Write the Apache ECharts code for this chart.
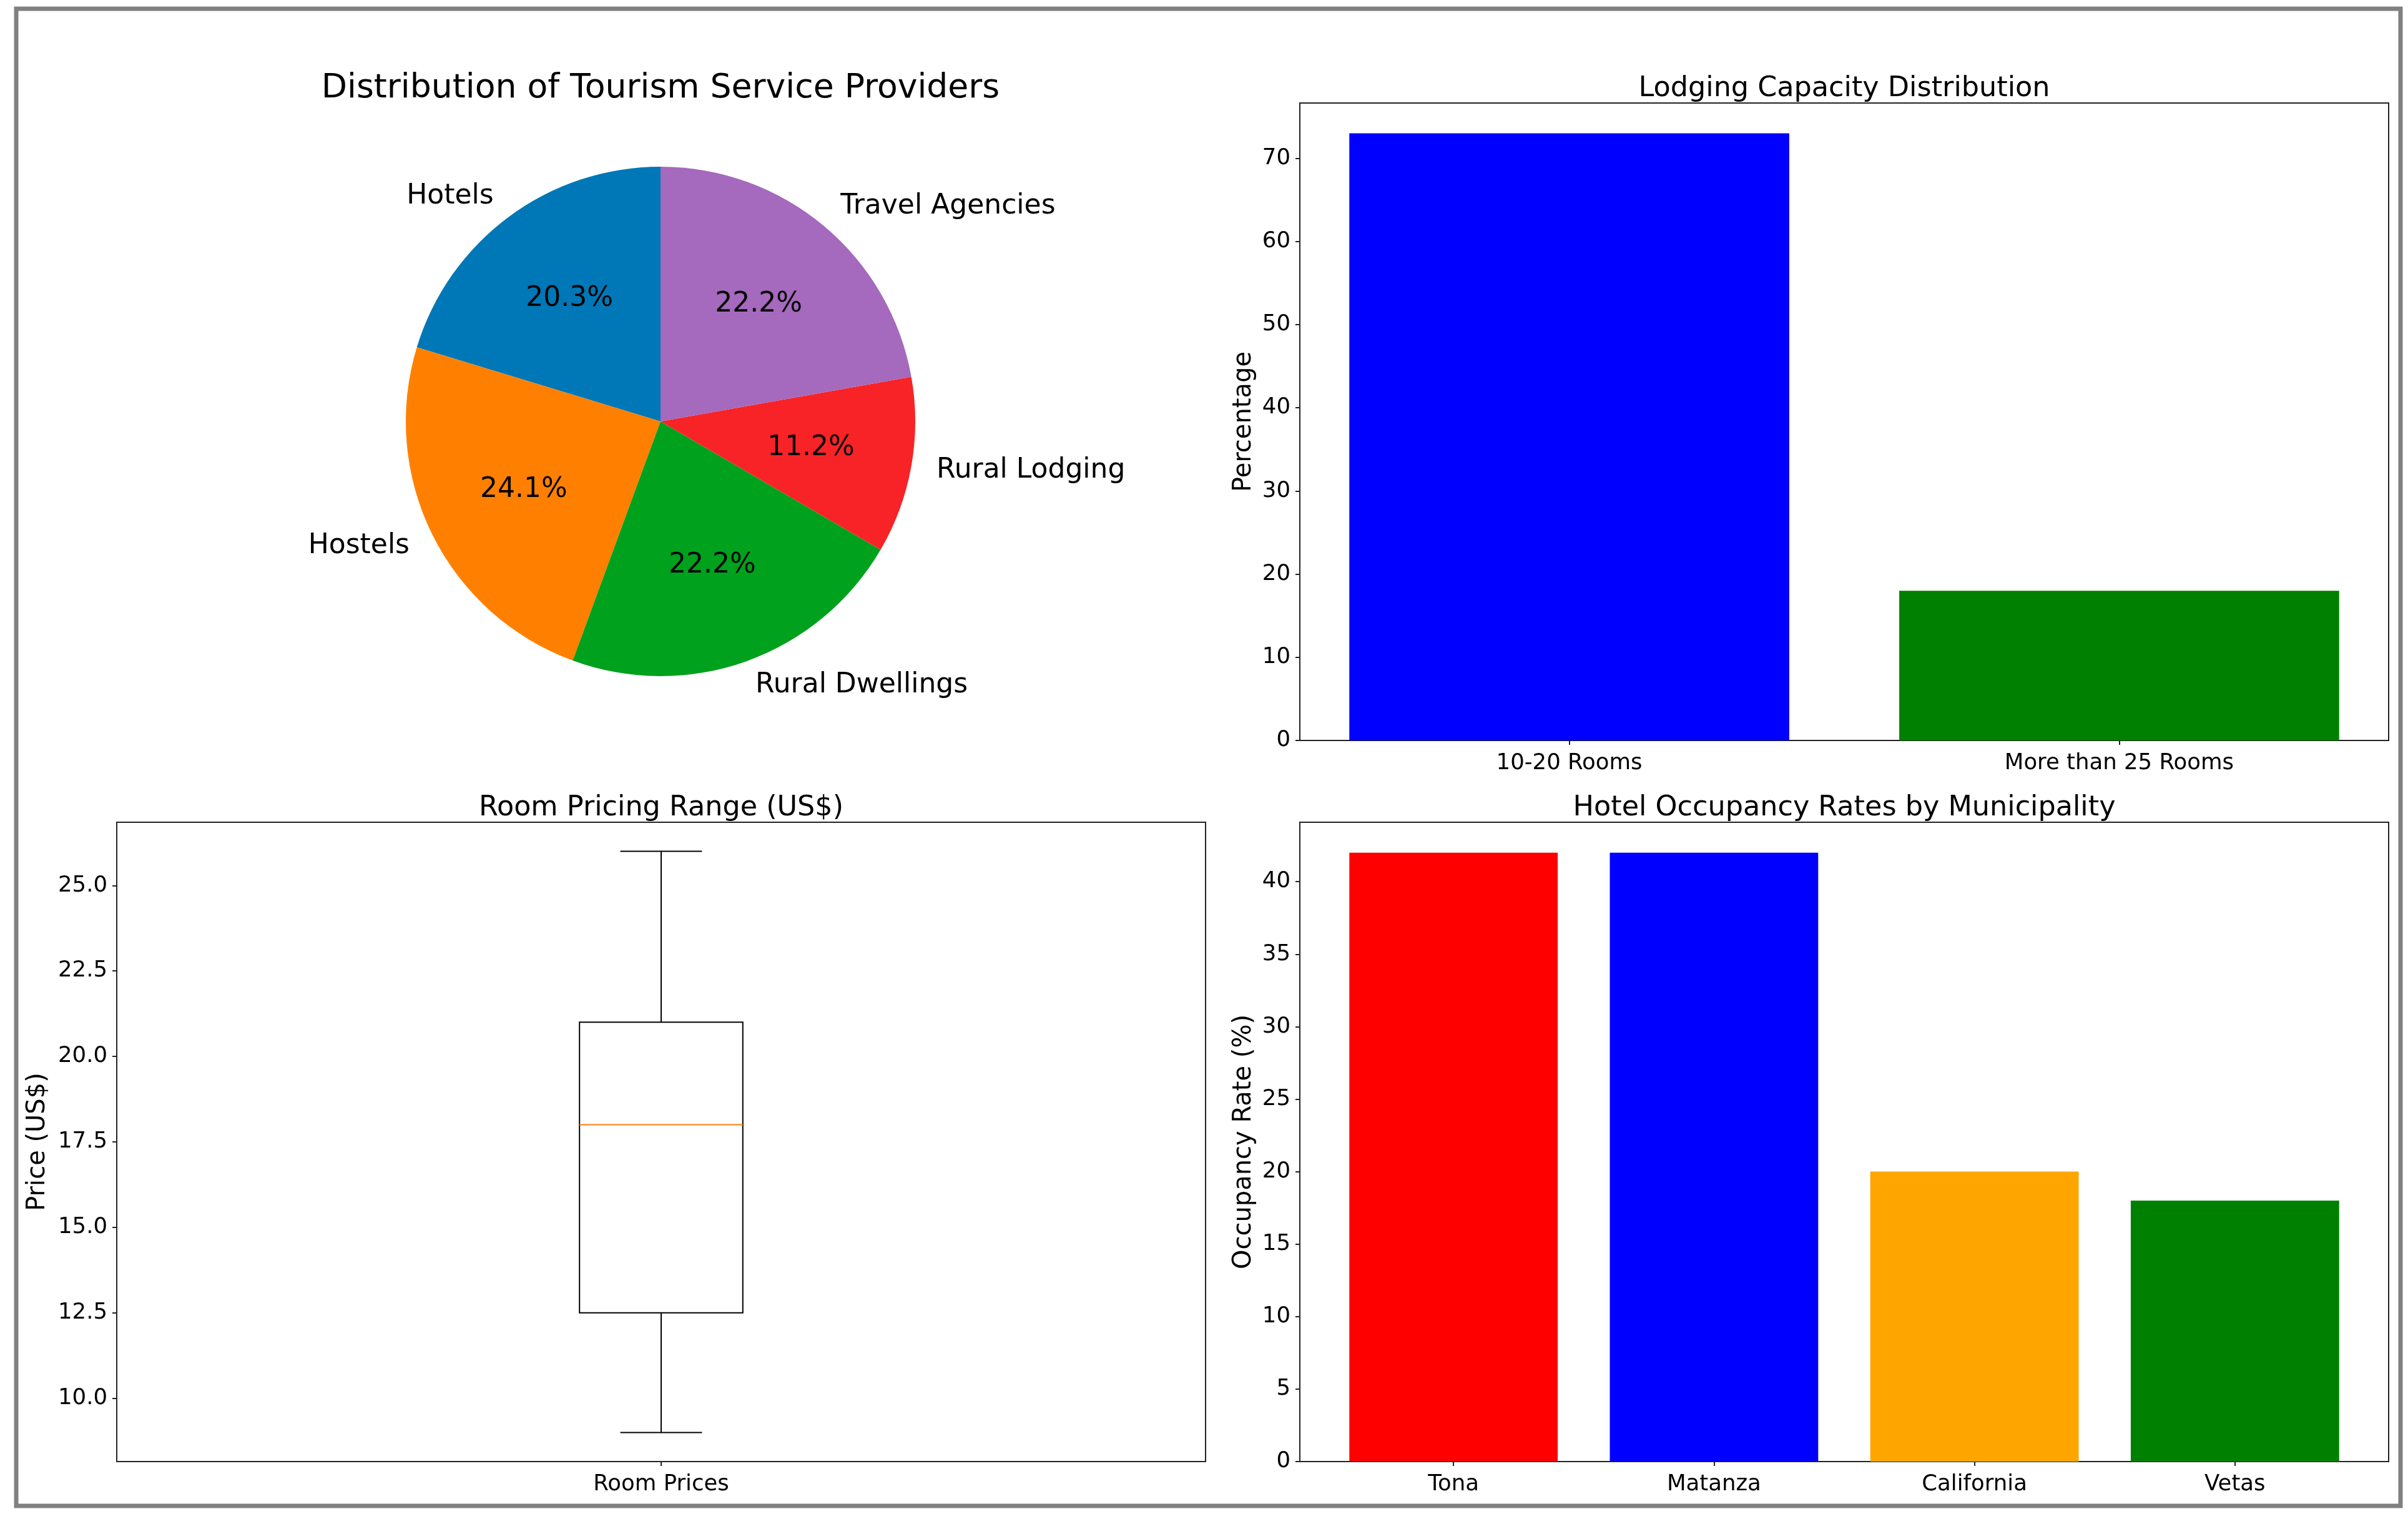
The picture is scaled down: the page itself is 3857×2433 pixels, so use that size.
<!DOCTYPE html>
<html>
<head>
<meta charset="utf-8">
<script src="https://cdn.jsdelivr.net/npm/echarts@6/dist/echarts.min.js"></script>
<style>
html,body{margin:0;padding:0;background:#fff;}
#c{width:3857px;height:2433px;}
</style>
</head>
<body>
<div id="c"></div>
<script>
// ---- data ----
const providerLabels = ['Hotels', 'Hostels', 'Rural Dwellings', 'Rural Lodging', 'Travel Agencies'];
const providerValues = [20.3, 24.1, 22.2, 11.2, 22.2];
const providerColors = ['#0077B6', '#FF8000', '#00A11C', '#F82326', '#A569BD'];

const capacityCats = ['10-20 Rooms', 'More than 25 Rooms'];
const capacityValues = [73, 18];
const capacityColors = ['#0000FF', '#008000'];
const capacityTicks = [0, 10, 20, 30, 40, 50, 60, 70];

const priceStats = [9, 12.5, 18, 21, 26]; // min, Q1, median, Q3, max
const priceCats = ['Room Prices'];
const priceTicks = [10, 12.5, 15, 17.5, 20, 22.5, 25];

const municipalities = ['Tona', 'Matanza', 'California', 'Vetas'];
const occupancyValues = [42, 42, 20, 18];
const occupancyColors = ['#FF0000', '#0000FF', '#FFA500', '#008000'];
const occupancyTicks = [0, 5, 10, 15, 20, 25, 30, 35, 40];

// ---- helpers ----
const FONT = 'DejaVu Sans';
const AX = '#222';
function idx(arr) { return arr.map((_, i) => i); }
function barLimits(n) { const lo = -0.4, hi = n - 1 + 0.4, m = (hi - lo) * 0.05; return [lo - m, hi + m]; }
const capLim = barLimits(capacityCats.length);
const occLim = barLimits(municipalities.length);
const priceSpan = priceStats[4] - priceStats[0];

const yLabel = { fontFamily: FONT, fontSize: 35.5, color: '#000', margin: 15 };
const xLabel = { fontFamily: FONT, fontSize: 35.5, color: '#000', margin: 19 };
const tick = { show: true, length: 7, lineStyle: { color: AX, width: 2 } };
const line = { show: true, onZero: false, lineStyle: { color: AX, width: 2 } };
const nameStyle = { fontFamily: FONT, fontSize: 40, color: '#000' };
const titleStyle = (s) => ({ fontFamily: FONT, fontSize: s, fontWeight: 'normal', color: '#000' });

const chart = echarts.init(document.getElementById('c'), null, { renderer: 'canvas' });

const option = {
  backgroundColor: '#fff',
  animation: false,
  title: [
    { text: 'Distribution of Tourism Service Providers', left: 1058, top: 115, textAlign: 'center', padding: 0, textStyle: titleStyle(53.6) },
    { text: 'Lodging Capacity Distribution', left: 2954, top: 120, textAlign: 'center', padding: 0, textStyle: titleStyle(44.5) },
    { text: 'Room Pricing Range (US$)', left: 1059, top: 1272, textAlign: 'center', padding: 0, textStyle: titleStyle(44.5) },
    { text: 'Hotel Occupancy Rates by Municipality', left: 2954, top: 1272, textAlign: 'center', padding: 0, textStyle: titleStyle(44.5) }
  ],
  graphic: [{
    type: 'rect', silent: true, z: 100,
    shape: { x: 26, y: 14, width: 3819, height: 2398 },
    style: { fill: 'rgba(0,0,0,0)', stroke: '#808080', lineWidth: 7 }
  }],
  grid: [
    { left: 2082, top: 165, width: 1744, height: 1021, show: true, borderColor: AX, borderWidth: 2, outerBoundsMode: 'none' },
    { left: 187, top: 1317, width: 1744, height: 1024, show: true, borderColor: AX, borderWidth: 2, outerBoundsMode: 'none' },
    { left: 2082, top: 1317, width: 1744, height: 1024, show: true, borderColor: AX, borderWidth: 2, outerBoundsMode: 'none' }
  ],
  xAxis: [
    {
      gridIndex: 0, type: 'value', min: capLim[0], max: capLim[1],
      axisLine: line, splitLine: { show: false },
      axisTick: Object.assign({}, tick, { customValues: idx(capacityCats) }),
      axisLabel: Object.assign({}, xLabel, { customValues: idx(capacityCats), formatter: v => capacityCats[Math.round(v)] })
    },
    {
      gridIndex: 1, type: 'category', data: priceCats,
      axisLine: line, splitLine: { show: false },
      axisTick: Object.assign({}, tick, { alignWithLabel: true }),
      axisLabel: xLabel
    },
    {
      gridIndex: 2, type: 'value', min: occLim[0], max: occLim[1],
      axisLine: line, splitLine: { show: false },
      axisTick: Object.assign({}, tick, { customValues: idx(municipalities) }),
      axisLabel: Object.assign({}, xLabel, { customValues: idx(municipalities), formatter: v => municipalities[Math.round(v)] })
    }
  ],
  yAxis: [
    {
      gridIndex: 0, type: 'value', min: 0, max: Math.max(...capacityValues) * 1.05,
      name: 'Percentage', nameLocation: 'middle', nameGap: 69, nameTextStyle: nameStyle,
      axisLine: line, splitLine: { show: false },
      axisTick: Object.assign({}, tick, { customValues: capacityTicks }),
      axisLabel: Object.assign({}, yLabel, { customValues: capacityTicks })
    },
    {
      gridIndex: 1, type: 'value',
      min: priceStats[0] - priceSpan * 0.05, max: priceStats[4] + priceSpan * 0.05,
      name: 'Price (US$)', nameLocation: 'middle', nameGap: 106, nameTextStyle: nameStyle,
      axisLine: line, splitLine: { show: false },
      axisTick: Object.assign({}, tick, { customValues: priceTicks }),
      axisLabel: Object.assign({}, yLabel, { customValues: priceTicks, formatter: v => v.toFixed(1) })
    },
    {
      gridIndex: 2, type: 'value', min: 0, max: Math.max(...occupancyValues) * 1.05,
      name: 'Occupancy Rate (%)', nameLocation: 'middle', nameGap: 69, nameTextStyle: nameStyle,
      axisLine: line, splitLine: { show: false },
      axisTick: Object.assign({}, tick, { customValues: occupancyTicks }),
      axisLabel: Object.assign({}, yLabel, { customValues: occupancyTicks })
    }
  ],
  series: [
    {
      type: 'pie', center: [1058, 675], radius: [0, 408],
      startAngle: 90, clockwise: false, avoidLabelOverlap: false, silent: true,
      itemStyle: { borderWidth: 0 },
      label: { show: true, position: 'outside', fontFamily: FONT, fontSize: 44, color: '#000', distanceToLabelLine: 0, formatter: '{b}' },
      labelLine: { show: false, length: 41, length2: 0 },
      data: providerLabels.map((n, i) => ({ name: n, value: providerValues[i], itemStyle: { color: providerColors[i] } }))
    },
    {
      type: 'pie', center: [1058, 675], radius: [0, 483.6],
      startAngle: 90, clockwise: false, avoidLabelOverlap: false, silent: true, z: 5,
      itemStyle: { color: 'rgba(0,0,0,0)', borderWidth: 0 },
      label: { show: true, position: 'inside', fontFamily: FONT, fontSize: 44, color: '#000', formatter: p => p.percent.toFixed(1) + '%' },
      labelLine: { show: false },
      data: providerLabels.map((n, i) => ({ name: n, value: providerValues[i] }))
    },
    {
      type: 'bar', xAxisIndex: 0, yAxisIndex: 0, barWidth: '80%',
      data: capacityCats.map((c, i) => ({ value: [i, capacityValues[i]], itemStyle: { color: capacityColors[i] } }))
    },
    {
      type: 'custom', xAxisIndex: 1, yAxisIndex: 1,
      data: [[0].concat(priceStats)],
      renderItem: function (params, api) {
        const x = api.value(0);
        const p = [1, 2, 3, 4, 5].map(k => api.coord([x, api.value(k)]));
        const cx = p[0][0];
        const bw = api.size([1, 0])[0] * 0.15;
        const cw = bw * 0.5;
        const ls = { stroke: '#000', lineWidth: 2 };
        return {
          type: 'group',
          children: [
            { type: 'line', shape: { x1: cx, y1: p[0][1], x2: cx, y2: p[1][1] }, style: ls },
            { type: 'line', shape: { x1: cx, y1: p[3][1], x2: cx, y2: p[4][1] }, style: ls },
            { type: 'line', shape: { x1: cx - cw / 2, y1: p[0][1], x2: cx + cw / 2, y2: p[0][1] }, style: ls },
            { type: 'line', shape: { x1: cx - cw / 2, y1: p[4][1], x2: cx + cw / 2, y2: p[4][1] }, style: ls },
            { type: 'rect', shape: { x: cx - bw / 2, y: p[3][1], width: bw, height: p[1][1] - p[3][1] }, style: { fill: 'rgba(0,0,0,0)', stroke: '#000', lineWidth: 2 } },
            { type: 'line', shape: { x1: cx - bw / 2, y1: p[2][1], x2: cx + bw / 2, y2: p[2][1] }, style: { stroke: '#FF7F0E', lineWidth: 2 } }
          ]
        };
      }
    },
    {
      type: 'bar', xAxisIndex: 2, yAxisIndex: 2, barWidth: '80%',
      data: municipalities.map((c, i) => ({ value: [i, occupancyValues[i]], itemStyle: { color: occupancyColors[i] } }))
    }
  ]
};
chart.setOption(option);
</script>
</body>
</html>
